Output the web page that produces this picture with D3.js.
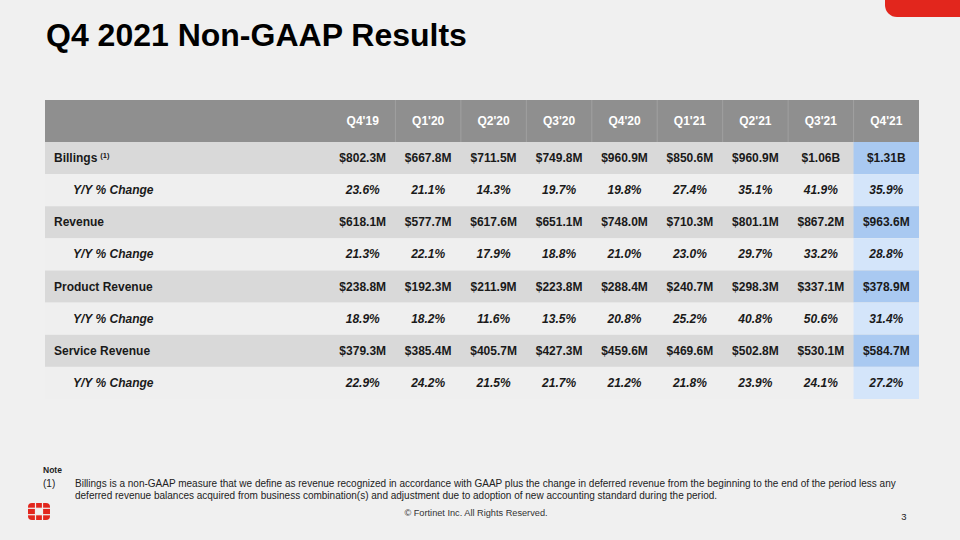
<!DOCTYPE html>
<html><head><meta charset="utf-8">
<script src="https://cdn.jsdelivr.net/npm/d3@7/dist/d3.min.js"></script>
<style>
html,body{margin:0;padding:0;background:#f0f0f0;}
svg{display:block;font-family:"Liberation Sans",Arial,sans-serif;}
</style></head>
<body>
<svg id="c" width="960" height="540"></svg>
<script>
const quarters = ["Q4'19","Q1'20","Q2'20","Q3'20","Q4'20","Q1'21","Q2'21","Q3'21","Q4'21"];
const rowLabels = ["Billings","Y/Y % Change","Revenue","Y/Y % Change","Product Revenue","Y/Y % Change","Service Revenue","Y/Y % Change"];
const billings = ["$802.3M","$667.8M","$711.5M","$749.8M","$960.9M","$850.6M","$960.9M","$1.06B","$1.31B"];
const billingsYoY = ["23.6%","21.1%","14.3%","19.7%","19.8%","27.4%","35.1%","41.9%","35.9%"];
const revenue = ["$618.1M","$577.7M","$617.6M","$651.1M","$748.0M","$710.3M","$801.1M","$867.2M","$963.6M"];
const revenueYoY = ["21.3%","22.1%","17.9%","18.8%","21.0%","23.0%","29.7%","33.2%","28.8%"];
const productRevenue = ["$238.8M","$192.3M","$211.9M","$223.8M","$288.4M","$240.7M","$298.3M","$337.1M","$378.9M"];
const productYoY = ["18.9%","18.2%","11.6%","13.5%","20.8%","25.2%","40.8%","50.6%","31.4%"];
const serviceRevenue = ["$379.3M","$385.4M","$405.7M","$427.3M","$459.6M","$469.6M","$502.8M","$530.1M","$584.7M"];
const serviceYoY = ["22.9%","24.2%","21.5%","21.7%","21.2%","21.8%","23.9%","24.1%","27.2%"];
const rowValues = [billings,billingsYoY,revenue,revenueYoY,productRevenue,productYoY,serviceRevenue,serviceYoY];

const svg = d3.select("#c");
const bg = "#f0f0f0";

// top-right red tab
svg.append("path")
  .attr("d","M885,0 H960 V17 H897 A12,12 0 0 1 885,5 Z")
  .attr("fill","#e2261d");

// title
svg.append("text").attr("x",46).attr("y",45.5)
  .attr("font-size",32).attr("font-weight","bold").attr("fill","#000")
  .text("Q4 2021 Non-GAAP Results");

// table geometry
const tableLeft = 45, labelRight = 330, tableRight = 919;
const headerTop = 100, headerBottom = 142, tableBottom = 399;

const x = d3.scaleBand().domain(quarters).range([labelRight, tableRight]);
const y = d3.scaleBand().domain(d3.range(rowLabels.length)).range([headerBottom, tableBottom]);
const isMain = i => i % 2 === 0;
const last = quarters[quarters.length-1];
const fs = 12;

// header
svg.append("rect").attr("x",tableLeft).attr("y",headerTop)
  .attr("width",tableRight-tableLeft).attr("height",headerBottom-headerTop).attr("fill","#8f8f8f");
svg.selectAll("line.hsep").data(quarters.slice(1)).join("line")
  .attr("x1",d=>x(d)).attr("x2",d=>x(d)).attr("y1",headerTop).attr("y2",headerBottom)
  .attr("stroke","#a0a0a0").attr("stroke-width",1);
svg.selectAll("text.hdr").data(quarters).join("text")
  .attr("x",d=>x(d)+x.bandwidth()/2).attr("y",(headerTop+headerBottom)/2+4)
  .attr("text-anchor","middle").attr("font-size",fs).attr("font-weight","bold")
  .attr("fill","#fff").text(d=>d);

// rows
const rows = svg.selectAll("g.row").data(rowLabels).join("g")
  .attr("transform",(d,i)=>`translate(0,${y(i)})`);
rows.append("rect").attr("x",tableLeft).attr("width",tableRight-tableLeft)
  .attr("height",y.bandwidth())
  .attr("fill",(d,i)=>isMain(i)?"#d9d9d9":"#efefef");
rows.append("rect").attr("x",x(last)).attr("width",x.bandwidth())
  .attr("height",y.bandwidth())
  .attr("fill",(d,i)=>isMain(i)?"#a9c9f1":"#d4e5fa");

rows.each(function(label,i){
  const g = d3.select(this);
  const t = g.append("text").attr("x",isMain(i)?54:73).attr("y",y.bandwidth()/2+4)
    .attr("font-size",fs).attr("font-weight","bold")
    .attr("font-style",isMain(i)?"normal":"italic").attr("fill","#1a1a1a").text(label);
  if(i===0){
    t.append("tspan").attr("dx",3).attr("dy",-4).attr("font-size",7.5).attr("font-style","normal").text("(1)");
  }
  g.selectAll("text.val").data(rowValues[i]).join("text")
    .attr("x",(d,j)=>x(quarters[j])+x.bandwidth()/2).attr("y",y.bandwidth()/2+4)
    .attr("text-anchor","middle").attr("font-size",fs).attr("font-weight","bold")
    .attr("font-style",isMain(i)?"normal":"italic").attr("fill","#1a1a1a").text(d=>d);
});

// notes
svg.append("text").attr("x",43).attr("y",473).attr("font-size",8.5).attr("font-weight","bold")
  .attr("fill","#222").text("Note");
svg.append("text").attr("x",43).attr("y",487).attr("font-size",10).attr("fill","#222").text("(1)");
svg.append("text").attr("x",75).attr("y",487).attr("font-size",10).attr("fill","#222")
  .text("Billings is a non-GAAP measure that we define as revenue recognized in accordance with GAAP plus the change in deferred revenue from the beginning to the end of the period less any");
svg.append("text").attr("x",75).attr("y",498.5).attr("font-size",10).attr("fill","#222")
  .text("deferred revenue balances acquired from business combination(s) and adjustment due to adoption of new accounting standard during the period.");

// footer
svg.append("text").attr("x",476).attr("y",516).attr("text-anchor","middle")
  .attr("font-size",9.2).attr("fill","#333").text("© Fortinet Inc. All Rights Reserved.");
svg.append("text").attr("x",904).attr("y",520).attr("text-anchor","middle")
  .attr("font-size",9.5).attr("fill","#222").text("3");

// logo
const logo = svg.append("g").attr("transform","translate(28,503)");
logo.append("rect").attr("width",22).attr("height",17).attr("rx",4).attr("fill","#e2261d");
logo.append("rect").attr("x",7.5).attr("y",5.3).attr("width",7).attr("height",6.4).attr("fill",bg);
[7.5,14.5].forEach(v=>logo.append("rect").attr("x",v-0.6).attr("y",0).attr("width",1.2).attr("height",17).attr("fill",bg));
[5.3,11.7].forEach(v=>logo.append("rect").attr("x",0).attr("y",v-0.6).attr("width",22).attr("height",1.2).attr("fill",bg));
</script>
</body></html>
